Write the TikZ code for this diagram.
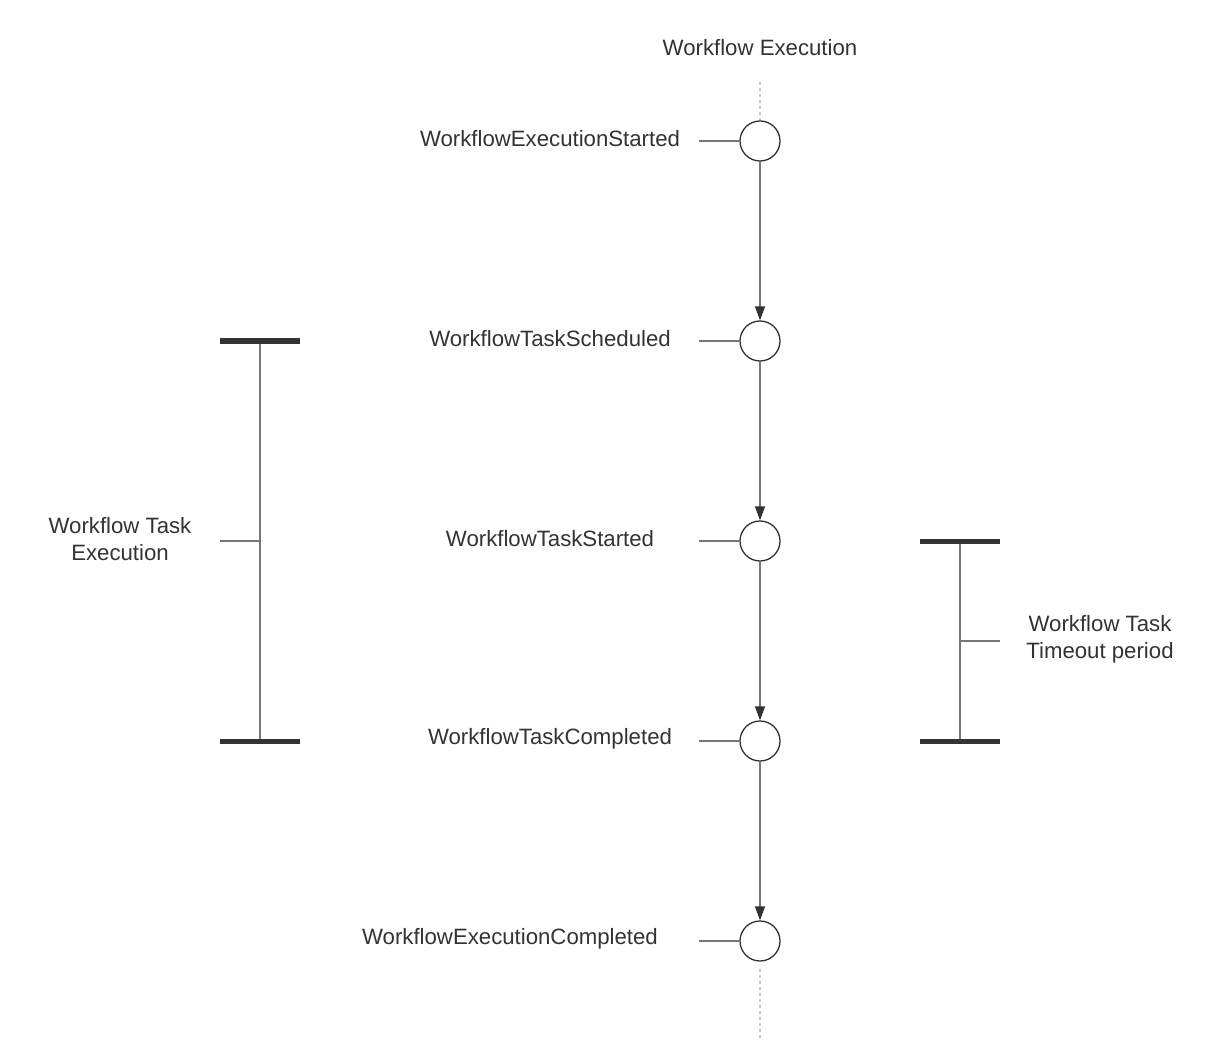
\documentclass[tikz,border=0pt]{standalone}
\usepackage{fontspec}
\setmainfont{Liberation Sans}
\usetikzlibrary{arrows.meta}
\definecolor{ink}{HTML}{333333}
\definecolor{linegray}{HTML}{777777}
\definecolor{dotgray}{HTML}{C8C8C8}
\begin{document}
\begin{tikzpicture}[x=1pt,y=-1pt,
  event/.style={circle,draw=ink,line width=1.3pt,minimum size=40pt,inner sep=0pt,fill=white},
  lbl/.style={font=\fontsize{22.2}{27}\selectfont,text=ink,inner sep=0pt,align=center},
  flow/.style={draw=linegray,line width=1.2pt,-{Triangle[length=14pt,width=10pt,color=ink]}},
  stub/.style={draw=linegray,line width=1.1pt},
  bar/.style={draw=ink,line width=5pt},
  span/.style={draw=linegray,line width=1.6pt},
  life/.style={draw=dotgray,line width=1.2pt,dash pattern=on 3pt off 3pt}]
\useasboundingbox[fill=white] (0,0) rectangle (1220,1048);
\node[lbl] (title) at (760,48) {Workflow Execution};
\node[event] (e1) at (760,141) {};
\node[event] (e2) at (760,341) {};
\node[event] (e3) at (760,541) {};
\node[event] (e4) at (760,741) {};
\node[event] (e5) at (760,941) {};
\coordinate (lt) at (760,82);
\coordinate (lb) at (760,1040);
\draw[life] (lt) -- (e1.north);
\draw[life] ([yshift=-7pt]e5.south) -- (lb);
\draw[flow] (e1) -- (e2);
\draw[flow] (e2) -- (e3);
\draw[flow] (e3) -- (e4);
\draw[flow] (e4) -- (e5);
\foreach \i in {1,...,5}{ \coordinate (s\i) at ([xshift=-40pt]e\i.west); \draw[stub] (s\i) -- (e\i.west); }
\node[lbl] (t1) at (550,139) {WorkflowExecutionStarted};
\node[lbl] (t2) at (550,339) {WorkflowTaskScheduled};
\node[lbl] (t3) at (550,539) {WorkflowTaskStarted};
\node[lbl] (t4) at (550,739) {WorkflowTaskCompleted};
\node[lbl] (t5) at (510,939) {WorkflowExecutionCompleted};
% left span
\coordinate (la) at (220,341); \coordinate (lc) at (300,341);
\coordinate (ld) at (220,741); \coordinate (le) at (300,741);
\coordinate (lv1) at (260,341); \coordinate (lv2) at (260,741);
\coordinate (lm) at (260,541); \coordinate (lmt) at (220,541);
\draw[span] (lv1) -- (lv2);
\draw[stub] (lmt) -- (lm);
\draw[bar] (la) -- (lc);
\draw[bar] (ld) -- (le);
\node[lbl] (ll) at (120,539) {Workflow Task\\Execution};
% right span
\coordinate (ra) at (920,541); \coordinate (rc) at (1000,541);
\coordinate (rd) at (920,741); \coordinate (re) at (1000,741);
\coordinate (rv1) at (960,541); \coordinate (rv2) at (960,741);
\coordinate (rm) at (960,641); \coordinate (rmt) at (1000,641);
\draw[span] (rv1) -- (rv2);
\draw[stub] (rm) -- (rmt);
\draw[bar] (ra) -- (rc);
\draw[bar] (rd) -- (re);
\node[lbl] (rl) at (1100,639) {Workflow Task\\Timeout period};
\end{tikzpicture}
\end{document}
